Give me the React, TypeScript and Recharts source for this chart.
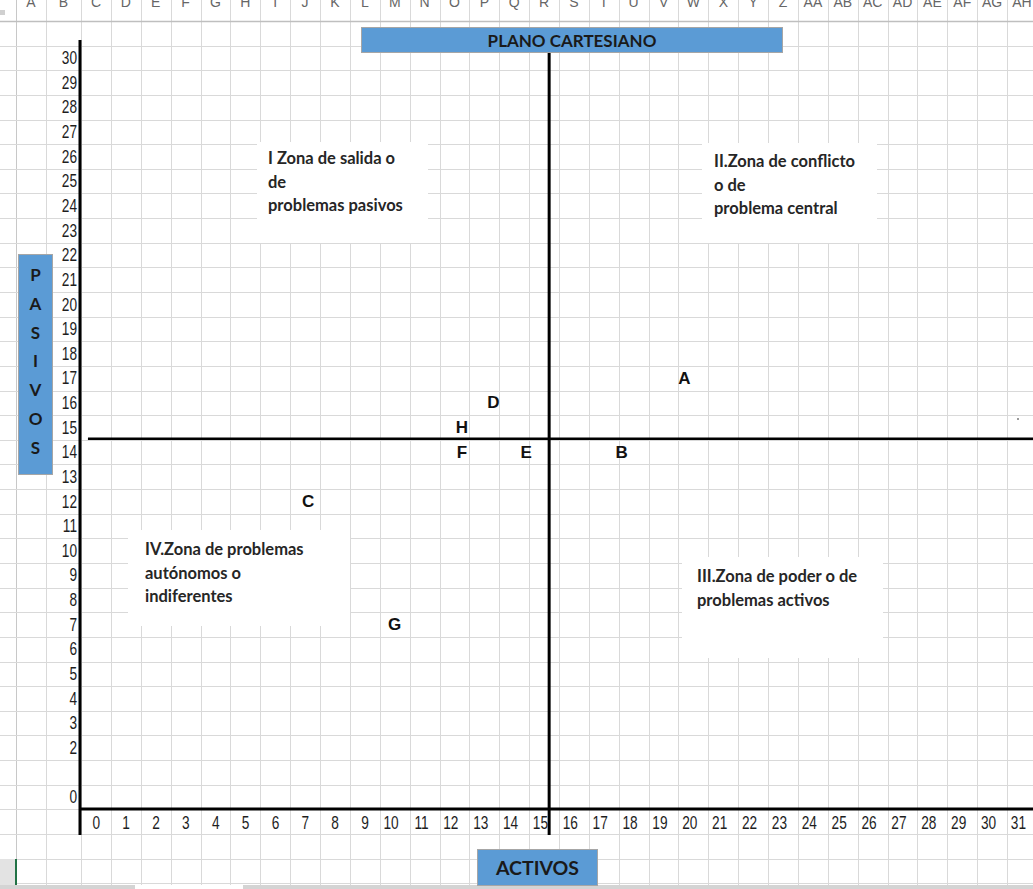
import React from 'react';
import { ScatterChart, Scatter, XAxis, YAxis, ReferenceLine } from 'recharts';

// ---------- data ----------
const pointNames = ['A', 'B', 'C', 'D', 'E', 'F', 'G', 'H'];
const activosValues = [19.7, 17.6, 7.1, 13.3, 14.4, 12.25, 10.0, 12.25];
const pasivosValues = [17, 14, 12, 16, 14, 14, 7, 15];

const xTickValues = [0, 1, 2, 3, 4, 5, 6, 7, 8, 9, 10, 11, 12, 13, 14, 15, 16, 17, 18, 19, 20, 21, 22, 23, 24, 25, 26, 27, 28, 29, 30, 31];
const yTickValues = [0, 2, 3, 4, 5, 6, 7, 8, 9, 10, 11, 12, 13, 14, 15, 16, 17, 18, 19, 20, 21, 22, 23, 24, 25, 26, 27, 28, 29, 30];

const splitActivos = 15.17;
const splitPasivos = 14.54;

const chartTitle = 'PLANO CARTESIANO';
const xAxisTitle = 'ACTIVOS';
const yAxisTitle = 'PASIVOS';

const zoneTexts = [
  ['I Zona de salida o', 'de', 'problemas pasivos'],
  ['II.Zona de conflicto', 'o de', 'problema central'],
  ['III.Zona de poder o de', 'problemas activos'],
  ['IV.Zona de problemas', 'autónomos o', 'indiferentes'],
];

const columnLetters = ['A', 'B', 'C', 'D', 'E', 'F', 'G', 'H', 'I', 'J', 'K', 'L', 'M', 'N', 'O', 'P', 'Q', 'R', 'S', 'T', 'U', 'V', 'W', 'X', 'Y', 'Z', 'AA', 'AB', 'AC', 'AD', 'AE', 'AF', 'AG', 'AH'];

// ---------- layout ----------
const W = 1033;
const H = 889;
const PLOT = { left: 80, top: 40, right: 1033, bottom: 809 };
const xDomain: [number, number] = [-0.536, 31.368];
const yDomain: [number, number] = [-0.487, 30.731];
const axisExtension = -1.54;

const toPxX = (v: number) => PLOT.left + ((v - xDomain[0]) / (xDomain[1] - xDomain[0])) * (PLOT.right - PLOT.left);
const toPxY = (v: number) => PLOT.bottom - ((v - yDomain[0]) / (yDomain[1] - yDomain[0])) * (PLOT.bottom - PLOT.top);

const zoneBoxes = [
  { left: 257, top: 142, width: 171, height: 101, textLeft: 11, textTop: 5 },
  { left: 702, top: 143, width: 175, height: 100, textLeft: 12, textTop: 7 },
  { left: 682, top: 557, width: 201, height: 101, textLeft: 15, textTop: 8 },
  { left: 128, top: 530, width: 222, height: 96, textLeft: 17, textTop: 8 },
];

const tickFont = "'Liberation Sans', Arial, sans-serif";
const calibriLike = "Lato, 'Open Sans', 'Noto Sans', sans-serif";

const points = pointNames.map((name, i) => ({ name, x: activosValues[i], y: pasivosValues[i] }));

const XTick = (props: any) => {
  const { x, y, payload } = props;
  return (
    <text
      transform={`translate(${x + 4},${y + 6}) scale(0.76,1)`}
      textAnchor="end"
      dominantBaseline="central"
      fontFamily={tickFont}
      fontSize={18}
      fill="#1e1e1e"
    >
      {payload.value}
    </text>
  );
};

const YTick = (props: any) => {
  const { x, y, payload } = props;
  return (
    <text
      transform={`translate(${x + 5},${y}) scale(0.76,1)`}
      textAnchor="end"
      dominantBaseline="central"
      fontFamily={tickFont}
      fontSize={18}
      fill="#1e1e1e"
    >
      {payload.value}
    </text>
  );
};

const LetterShape = (props: any) => {
  const { cx, cy } = props;
  const name = props.payload?.name ?? props.name;
  return (
    <text x={cx} y={cy} textAnchor="middle" dominantBaseline="central" fontFamily="'Liberation Sans', Arial, sans-serif" fontWeight={700} fontSize={17} fill="#111">
      {name}
    </text>
  );
};

const SheetBackground = () => {
  const vLines: number[] = [16, 46];
  for (let k = 0; k <= 32; k++) vLines.push(toPxX(k - 0.5));
  const hLines: number[] = [];
  for (let k = -4; k <= 31; k++) hLines.push(toPxY(k + 0.5));
  const colCenters: number[] = [31, 63.5];
  for (let k = 0; k < 32; k++) colCenters.push(toPxX(k));
  return (
    <svg width={W} height={H} style={{ position: 'absolute', left: 0, top: 0 }}>
      <rect x={0} y={0} width={W} height={H} fill="#ffffff" />
      {vLines.map((x, i) => (
        <line key={'v' + i} x1={Math.round(x) + 0.5} x2={Math.round(x) + 0.5} y1={0} y2={885} stroke={i === 0 ? '#c8c8c8' : '#d9d9d9'} strokeWidth={1} />
      ))}
      {hLines.map((y, i) => (
        <line key={'h' + i} x1={0} x2={W} y1={Math.round(y) + 0.5} y2={Math.round(y) + 0.5} stroke="#d9d9d9" strokeWidth={1} />
      ))}
      <line x1={0} x2={W} y1={21.5} y2={21.5} stroke="#bfbfbf" strokeWidth={1.5} />
      {columnLetters.map((c, i) => (
        <text key={c} x={colCenters[i]} y={7} textAnchor="middle" fontFamily="'Liberation Sans', Arial, sans-serif" fontSize={14} fill="#666">
          {c}
        </text>
      ))}
      <rect x={0} y={10} width={5} height={5} fill="#d0d0d0" />
      <rect x={0} y={859} width={15} height={26} fill="#e3e3e3" />
      <rect x={15} y={859} width={2} height={26} fill="#217346" />
      <rect x={0} y={885} width={135} height={4} fill="#d4d4d4" />
      <rect x={243} y={885} width={W - 243} height={4} fill="#d4d4d4" />
      <rect x={1017} y={418} width={2} height={2} fill="#9a9a9a" />
    </svg>
  );
};

export default function App() {
  return (
    <div style={{ position: 'absolute', left: 0, top: 0, width: W, height: H, overflow: 'hidden', background: '#fff' }}>
      <SheetBackground />

      {zoneBoxes.map((b, i) => (
        <div
          key={i}
          style={{
            position: 'absolute',
            left: b.left,
            top: b.top,
            width: b.width,
            height: b.height,
            background: '#fff',
            boxSizing: 'border-box',
            paddingLeft: b.textLeft,
            paddingTop: b.textTop,
            fontFamily: calibriLike,
            fontWeight: 700,
            fontSize: 16.5,
            lineHeight: '23.5px',
            color: '#262626',
            whiteSpace: 'nowrap',
          }}
        >
          {zoneTexts[i].map((t, j) => (
            <div key={j}>{t}</div>
          ))}
        </div>
      ))}

      <div style={{ position: 'absolute', left: 0, top: 0 }}>
        <ScatterChart width={W} height={H} margin={{ top: PLOT.top, right: W - PLOT.right, bottom: H - PLOT.bottom - 30, left: 0 }}>
          <XAxis
            type="number"
            dataKey="x"
            domain={xDomain}
            ticks={xTickValues}
            interval={0}
            allowDataOverflow
            height={30}
            axisLine={{ stroke: '#000', strokeWidth: 3 }}
            tickLine={false}
            tick={<XTick />}
          />
          <YAxis
            type="number"
            dataKey="y"
            domain={yDomain}
            ticks={yTickValues}
            interval={0}
            allowDataOverflow
            width={PLOT.left}
            axisLine={false}
            tickLine={false}
            tick={<YTick />}
          />
          <ReferenceLine
            segment={[{ x: xDomain[0], y: axisExtension }, { x: xDomain[0], y: yDomain[1] }]}
            stroke="#000"
            strokeWidth={3}
            ifOverflow="visible"
          />
          <ReferenceLine
            segment={[{ x: splitActivos, y: axisExtension }, { x: splitActivos, y: yDomain[1] }]}
            stroke="#000"
            strokeWidth={3}
            ifOverflow="visible"
          />
          <ReferenceLine
            segment={[{ x: -0.27, y: splitPasivos }, { x: xDomain[1], y: splitPasivos }]}
            stroke="#000"
            strokeWidth={2.5}
            ifOverflow="visible"
          />
          <Scatter data={points} isAnimationActive={false} shape={<LetterShape />} />
        </ScatterChart>
      </div>

      <div
        style={{
          position: 'absolute',
          left: 361,
          top: 27,
          width: 422,
          height: 26,
          background: '#5b9bd5',
          border: '1px solid #a6a6a6',
          boxSizing: 'border-box',
          display: 'flex',
          alignItems: 'center',
          justifyContent: 'center',
          fontFamily: calibriLike,
          fontWeight: 700,
          fontSize: 17,
          color: '#1a1a1a',
        }}
      >
        {chartTitle}
      </div>

      <div
        style={{
          position: 'absolute',
          left: 477,
          top: 849,
          width: 121,
          height: 37,
          background: '#5b9bd5',
          border: '1px solid #a6a6a6',
          boxSizing: 'border-box',
          display: 'flex',
          alignItems: 'center',
          justifyContent: 'center',
          fontFamily: calibriLike,
          fontWeight: 700,
          fontSize: 19.5,
          color: '#1a1a1a',
        }}
      >
        {xAxisTitle}
      </div>

      <div
        style={{
          position: 'absolute',
          left: 18,
          top: 254,
          width: 35,
          height: 221,
          background: '#5b9bd5',
          border: '1px solid #a6a6a6',
          boxSizing: 'border-box',
          paddingTop: 6,
          display: 'flex',
          flexDirection: 'column',
          alignItems: 'center',
          fontFamily: calibriLike,
          fontWeight: 700,
          fontSize: 17,
          lineHeight: '28.8px',
          color: '#1a1a1a',
        }}
      >
        {yAxisTitle.split('').map((ch, i) => (
          <div key={i}>{ch}</div>
        ))}
      </div>
    </div>
  );
}
